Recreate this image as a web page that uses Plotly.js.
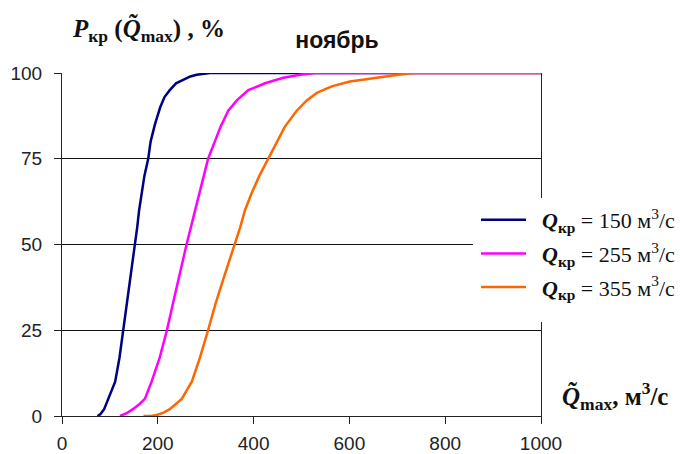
<!DOCTYPE html>
<html>
<head>
<meta charset="utf-8">
<script src="https://cdn.plot.ly/plotly-3.0.1.min.js"></script>
<style>html,body{margin:0;padding:0;background:#fff;}#chart{width:680px;height:454px;}</style>
</head>
<body>
<div id="chart"></div>
<script>
// Series: Qкр = 150 м3/с
const x150 = [74, 80, 88, 97, 104, 111, 120, 128, 136, 143, 148, 152, 157, 161, 166, 172, 180, 185, 194, 205, 214, 225, 238, 253, 268, 281, 295, 309, 1000];
const y150 = [0, 0.5, 2, 5, 7.5, 10, 17, 25, 33, 40, 45, 50, 55, 60, 65, 70, 75, 80, 85, 90, 93, 95, 97, 98, 99, 99.5, 99.8, 100, 100];
// Series: Qкр = 255 м3/с
const x255 = [121, 135, 148, 162, 173, 187, 204, 219, 232, 243, 252, 260, 269, 278, 287, 296, 305, 319, 330, 347, 365, 389, 424, 462, 497, 528, 1000];
const y255 = [0, 0.8, 2, 3.5, 5, 10, 17, 25, 33, 40, 45, 50, 55, 60, 65, 70, 75, 80, 84, 89, 92, 95, 97, 98.6, 99.5, 100, 100];
// Series: Qкр = 355 м3/с
const x355 = [170, 185, 198, 212, 225, 250, 271, 288, 305, 321, 337, 349, 361, 372, 382, 396, 412, 430, 465, 490, 511, 532, 563, 601, 650, 691, 733, 1000];
const y355 = [0, 0, 0.3, 1, 2, 5, 10, 17, 25, 33, 40, 45, 50, 55, 60, 65, 70, 75, 84.3, 89, 92, 94.2, 96.1, 97.5, 98.6, 99.3, 100, 100];

const seriesNames = [
  "\u00A0\u00A0<b><i>Q</i><sub>кр</sub></b> = 150 м<sup>3</sup>/с",
  "\u00A0\u00A0<b><i>Q</i><sub>кр</sub></b> = 255 м<sup>3</sup>/с",
  "\u00A0\u00A0<b><i>Q</i><sub>кр</sub></b> = 355 м<sup>3</sup>/с"
];
const seriesColors = ["#000080", "#FF00FF", "#FF6600"];
const xTicks = [0, 200, 400, 600, 800, 1000];
const yTicks = [0, 25, 50, 75, 100];

const xs = [x150, x255, x355];
const ys = [y150, y255, y355];
const traces = xs.map((xv, i) => ({
  x: xv, y: ys[i], type: 'scatter', mode: 'lines',
  name: seriesNames[i], legendgroup: 'g' + i,
  line: {color: seriesColors[i], width: 2.5},
  hoverinfo: 'skip'
}));

const L = 62, R = 541, T = 73, B = 416;
const pw = R - L, ph = B - T;
const px = v => (v - L) / pw;
const py = v => (B - v) / ph;

const layout = {
  width: 680, height: 454,
  margin: {l: L, r: 680 - R, t: T, b: 454 - B, pad: 0, autoexpand: false},
  paper_bgcolor: '#fff', plot_bgcolor: '#fff',
  showlegend: true,
  title: {
    text: '<b>ноябрь</b>',
    font: {family: 'Liberation Sans, Arial, sans-serif', size: 23, color: '#111'},
    x: 337 / 680, xanchor: 'center', xref: 'container',
    y: 1 - 40 / 454, yanchor: 'middle', yref: 'container'
  },
  xaxis: {
    range: [0, 1000], tickvals: xTicks, ticktext: xTicks.map(String),
    showgrid: false, zeroline: false, automargin: false,
    showline: true, linecolor: '#222', linewidth: 1,
    ticks: 'outside', ticklen: 7, tickcolor: '#222', tickwidth: 1,
    ticklabelstandoff: 3,
    tickfont: {family: 'Liberation Sans, Arial, sans-serif', size: 19, color: '#222'},
    fixedrange: true
  },
  yaxis: {
    range: [0, 100], tickvals: yTicks, ticktext: yTicks.map(String),
    showgrid: true, gridcolor: '#111', gridwidth: 1, zeroline: false, automargin: false,
    showline: true, mirror: true, linecolor: '#222', linewidth: 1,
    ticks: 'outside', ticklen: 7, tickcolor: '#222', tickwidth: 1,
    ticklabelstandoff: 8,
    tickfont: {family: 'Liberation Sans, Arial, sans-serif', size: 19, color: '#222'},
    fixedrange: true
  },
  legend: {
    x: px(476), xanchor: 'left', y: py(199), yanchor: 'top',
    bgcolor: 'rgba(0,0,0,0)', borderwidth: 0,
    traceorder: 'grouped', tracegroupgap: 2,
    itemwidth: 45,
    font: {family: 'Liberation Serif, Times New Roman, serif', size: 22, color: '#111'}
  },
  shapes: [{
    type: 'rect', xref: 'paper', yref: 'paper', layer: 'above',
    x0: px(473), x1: px(680), y0: py(322), y1: py(198),
    fillcolor: '#fff', line: {width: 0}
  }],
  annotations: [
    {
      xref: 'paper', yref: 'paper', x: px(70), y: py(30), xanchor: 'left', yanchor: 'middle',
      showarrow: false,
      text: '<b><i>P</i><sub>кр</sub> (<i>Q\u0303</i><sub>max</sub>) , %</b>',
      font: {family: 'Liberation Serif, Times New Roman, serif', size: 25, color: '#111'}
    },
    {
      xref: 'paper', yref: 'paper', x: px(560), y: py(396), xanchor: 'left', yanchor: 'middle',
      showarrow: false,
      text: '<b><i>Q\u0303</i><sub>max</sub>, м<sup>3</sup>/с</b>',
      font: {family: 'Liberation Serif, Times New Roman, serif', size: 25, color: '#111'}
    }
  ]
};

Plotly.newPlot('chart', traces, layout, {staticPlot: true, displayModeBar: false});
</script>
</body>
</html>
